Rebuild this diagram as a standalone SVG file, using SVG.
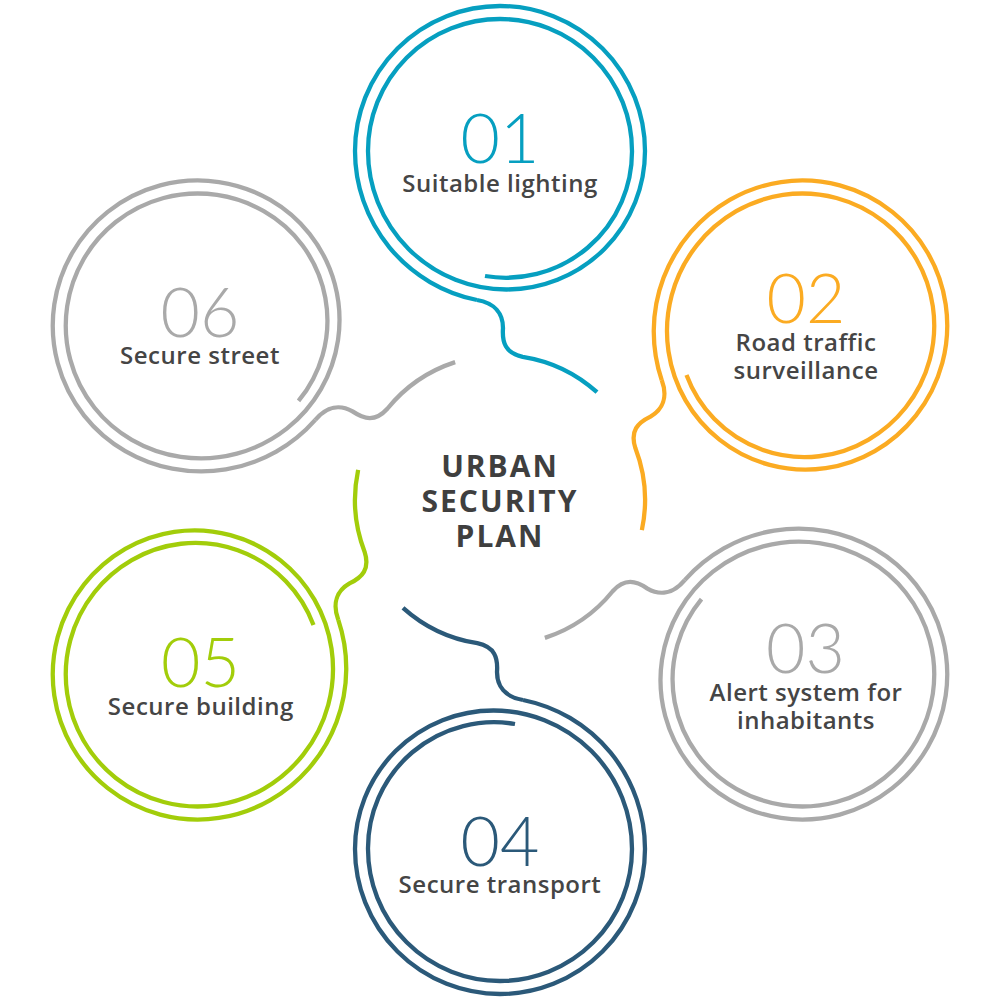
<svg xmlns="http://www.w3.org/2000/svg" width="1000" height="1000" viewBox="0 0 1000 1000">
<style>
.ln{fill:none;stroke-width:4.3;stroke-linejoin:round;stroke-linecap:butt}
.num{font-family:Lato,"Open Sans",sans-serif;font-weight:300;font-size:68px;text-anchor:middle}
.lbl{font-family:"Open Sans","Noto Sans",sans-serif;font-weight:600;font-size:24px;fill:#454545;text-anchor:middle;letter-spacing:0.5px}
.ttl{font-family:"Open Sans","Noto Sans",sans-serif;font-weight:700;font-size:30px;fill:#3f3f3f;text-anchor:middle;letter-spacing:2px}
</style>
<defs>
<path id="ring" class="ln" d="M 485 276 A 126 126 0 0 0 632 151 A 132 132 0 0 0 500 19 A 132 132 0 0 0 368 151 A 138.5 138.5 0 0 0 506.5 289.5 A 138.5 138.5 0 0 0 645 151 A 145 145 0 0 0 500 6 A 145 145 0 0 0 355 151 A 152 152 0 0 0 477 300"/>
<path id="tail" class="ln" d="M 477 300 C 495 303 503 314 503 328 C 502 342 505 353 522.7 356.8 A 145 145 0 0 1 597 392.2"/>
</defs>
<g id="connectors">
<use href="#tail" stroke="#069fc0"/>
<use href="#tail" stroke="#fbab22" transform="rotate(60 500 500)"/>
<use href="#tail" stroke="#a9a9a9" transform="rotate(120 500 500)"/>
<use href="#tail" stroke="#2b5979" transform="rotate(180 500 500)"/>
<use href="#tail" stroke="#a2cd0a" transform="rotate(240 500 500)"/>
<use href="#tail" stroke="#a9a9a9" transform="rotate(300 500 500)"/>
</g>
<g id="node-01">
<use href="#ring" stroke="#069fc0"/>
<text class="num" x="500" y="163" fill="#069fc0">01</text>
<text class="lbl" x="500" y="192">Suitable lighting</text>
</g>
<g id="node-02">
<use href="#ring" stroke="#fbab22" transform="rotate(60 500 500)"/>
<text class="num" x="806" y="322.5" fill="#fbab22">02</text>
<text class="lbl" x="806" y="350.5">Road traffic</text>
<text class="lbl" x="806" y="379.3">surveillance</text>
</g>
<g id="node-03">
<use href="#ring" stroke="#a9a9a9" transform="rotate(120 500 500)"/>
<text class="num" x="805.5" y="672.7" fill="#a9a9a9">03</text>
<text class="lbl" x="806" y="701">Alert system for</text>
<text class="lbl" x="806" y="729.3">inhabitants</text>
</g>
<g id="node-04">
<use href="#ring" stroke="#2b5979" transform="rotate(180 500 500)"/>
<text class="num" x="500" y="865.7" fill="#2b5979">04</text>
<text class="lbl" x="500" y="893.3">Secure transport</text>
</g>
<g id="node-05">
<use href="#ring" stroke="#a2cd0a" transform="rotate(240 500 500)"/>
<text class="num" x="200.5" y="687.3" fill="#a2cd0a">05</text>
<text class="lbl" x="200.8" y="715">Secure building</text>
</g>
<g id="node-06">
<use href="#ring" stroke="#a9a9a9" transform="rotate(300 500 500)"/>
<text class="num" x="200" y="336.7" fill="#a9a9a9">06</text>
<text class="lbl" x="200" y="364.3">Secure street</text>
</g>
<g id="center">
<text class="ttl" x="500" y="477">URBAN</text>
<text class="ttl" x="500" y="512">SECURITY</text>
<text class="ttl" x="500" y="547">PLAN</text>
</g>
</svg>
